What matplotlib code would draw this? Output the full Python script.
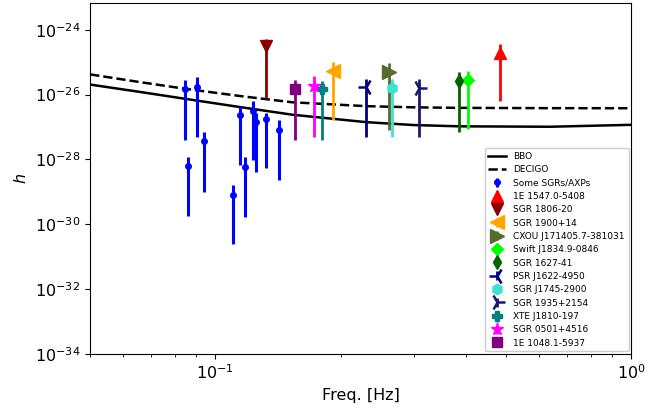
import numpy as np
import matplotlib
matplotlib.use("Agg")
import matplotlib.pyplot as plt

# --- sensitivity curves ---
bbo_f = [0.05, 0.0656, 0.0847, 0.115, 0.153, 0.231, 0.30, 0.387, 0.638, 1.0]
bbo_h = [2.04e-26, 1.22e-26, 7.4e-27, 4.1e-27, 2.4e-27, 1.41e-27, 1.15e-27, 1.05e-27, 1.02e-27, 1.17e-27]
decigo_f = [0.05, 0.0656, 0.0847, 0.115, 0.153, 0.231, 0.30, 0.387, 0.638, 1.0]
decigo_h = [4.2e-26, 2.45e-26, 1.51e-26, 9.0e-27, 5.8e-27, 4.4e-27, 4.05e-27, 3.9e-27, 3.82e-27, 3.8e-27]

# --- "Some SGRs/AXPs" ---
sgr_f = [0.0847, 0.0905, 0.0941, 0.0861, 0.110, 0.1149, 0.118, 0.1235, 0.1249, 0.132, 0.1426]
sgr_h = [1.51e-26, 1.74e-26, 3.6e-28, 6.3e-29, 8.1e-30, 2.4e-27, 5.9e-29, 3.2e-27, 1.45e-27, 1.78e-27, 8.3e-28]
sgr_lo = [4.1e-28, 5.0e-28, 1.0e-29, 1.8e-30, 2.5e-31, 6.8e-29, 1.7e-30, 9.8e-29, 4.2e-29, 5.4e-29, 2.3e-29]
sgr_hi = [2.9e-26, 3.4e-26, 6.8e-28, 1.2e-28, 1.6e-29, 4.6e-27, 1.2e-28, 6.2e-27, 2.75e-27, 2.8e-27, 1.6e-27]

# --- named sources ---
src_names = ["1E 1547.0-5408", "SGR 1806-20", "SGR 1900+14", "CXOU J171405.7-381031",
             "Swift J1834.9-0846", "SGR 1627-41", "PSR J1622-4950", "SGR J1745-2900",
             "SGR 1935+2154", "XTE J1810-197", "SGR 0501+4516", "1E 1048.1-5937"]
src_f = [0.483, 0.132, 0.1917, 0.2611, 0.4042, 0.3851, 0.2307, 0.2655, 0.3084, 0.1804, 0.1728, 0.155]
src_h = [1.95e-25, 3.1e-25, 5.5e-26, 4.9e-26, 2.9e-26, 2.6e-26, 1.7e-26, 1.62e-26, 1.62e-26, 1.51e-26, 1.82e-26, 1.51e-26]
src_lo = [6.2e-27, 7.9e-27, 1.7e-27, 8.3e-28, 8.7e-28, 7.2e-28, 5.1e-28, 5.1e-28, 5.1e-28, 4.1e-28, 4.9e-28, 4.1e-28]
src_hi = [3.7e-25, 5.2e-25, 1.0e-25, 9.5e-26, 5.2e-26, 4.9e-26, 3.1e-26, 3.1e-26, 3.1e-26, 2.7e-26, 3.7e-26, 2.75e-26]

src_colors = ["red", "darkred", "orange", "darkolivegreen", "lime", "darkgreen", "navy",
              "turquoise", "midnightblue", "teal", "magenta", "purple"]
src_markers = ["^", "v", "<", ">", "D", "d", "3", "h", "4", "P", "*", "s"]
src_ms = [9, 8.5, 9.5, 9.5, 6.3, 7.5, 12, 7.5, 12, 6.8, 9.5, 6.5]

fig = plt.figure(figsize=(6.68, 4.12), dpi=100)
ax = fig.add_axes([0.135, 0.141, 0.81, 0.852])

ax.plot(bbo_f, bbo_h, "-", color="black", lw=1.8, label="BBO")
ax.plot(decigo_f, decigo_h, "--", color="black", lw=1.8, label="DECIGO")

sh = np.array(sgr_h)
ax.errorbar(sgr_f, sgr_h, yerr=[sh - np.array(sgr_lo), np.array(sgr_hi) - sh],
            fmt="o", color="blue", ms=4, elinewidth=2.2, capsize=0, label="Some SGRs/AXPs")

for i, name in enumerate(src_names):
    h = src_h[i]
    mk = src_markers[i]
    mew = 1.8 if mk in ("3", "4") else 1.0
    ax.errorbar([src_f[i]], [h], yerr=[[h - src_lo[i]], [src_hi[i] - h]],
                fmt=mk, color=src_colors[i], ms=src_ms[i], mew=mew,
                elinewidth=2, capsize=0, label=name)

ax.set_xscale("log")
ax.set_yscale("log")
ax.set_xlim(0.05, 1.0)
ax.set_ylim(1e-34, 10**-23.17)
ax.set_yticks([1e-34, 1e-32, 1e-30, 1e-28, 1e-26, 1e-24])
ax.yaxis.set_minor_locator(matplotlib.ticker.NullLocator())
ax.tick_params(labelsize=11.5)
ax.set_xlabel("Freq. [Hz]", fontsize=11.5)
ax.set_ylabel("$h$", fontsize=11.5)

ax.legend(loc="lower right", fontsize=6.5, handlelength=2, labelspacing=0.48,
          borderaxespad=0.3, framealpha=1)

fig.savefig("out.png", dpi=100)
